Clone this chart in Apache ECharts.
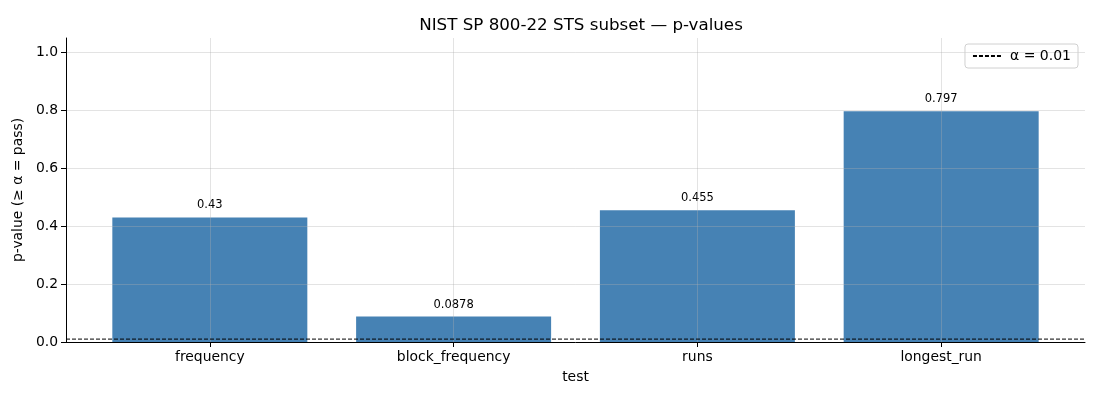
<!DOCTYPE html>
<html>
<head>
<meta charset="utf-8">
<script src="https://cdn.jsdelivr.net/npm/echarts@6/dist/echarts.min.js"></script>
<style>
  html, body { margin: 0; padding: 0; background: #fff; }
  #chart { width: 1100px; height: 400px; }
</style>
</head>
<body>
<div id="chart"></div>
<script>
  // categories and p-values
  const tests = ["frequency", "block_frequency", "runs", "longest_run"];
  const pValues = [0.43, 0.0878, 0.455, 0.797];
  const pLabels = ["0.43", "0.0878", "0.455", "0.797"];
  const alpha = 0.01;
  const yTicks = [0, 0.2, 0.4, 0.6, 0.8, 1.0];

  const FONT = "DejaVu Sans";
  const xMin = -0.59, xMax = 3.59; // matplotlib-style margins around the bars
  const positions = tests.map((_, i) => i);

  const chart = echarts.init(document.getElementById("chart"), null, { renderer: "canvas" });

  const gridLine = { show: true, lineStyle: { color: "rgba(176,176,176,0.35)", width: 1 } };

  chart.setOption({
    animation: false,
    textStyle: { fontFamily: FONT },
    title: {
      text: "NIST SP 800-22 STS subset — p-values",
      left: 576,          // centred over the plot area, not the page
      textAlign: "center",
      top: 12,
      textStyle: { fontFamily: FONT, fontSize: 16.7, fontWeight: "normal", color: "#000" }
    },
    legend: {
      right: 22,
      top: 44,
      padding: [5, 7],
      borderColor: "#d0d0d0",
      borderWidth: 1,
      borderRadius: 3,
      itemWidth: 28,
      itemHeight: 10,
      itemGap: 8,
      itemStyle: { opacity: 0 },
      textStyle: { fontFamily: FONT, fontSize: 14, color: "#000", padding: [0, 0, 0, 4] },
      data: ["α = 0.01"]
    },
    grid: { left: 66, right: 15, top: 38, bottom: 58 },
    xAxis: {
      type: "value",
      min: xMin,
      max: xMax,
      z: 3,
      name: "test",
      nameLocation: "middle",
      nameGap: 28,
      nameTextStyle: { fontFamily: FONT, fontSize: 13.9, color: "#000" },
      axisLine: { show: true, onZero: false, lineStyle: { color: "#000", width: 1 } },
      axisTick: { show: true, customValues: positions, length: 5, lineStyle: { color: "#000" } },
      axisLabel: {
        customValues: positions,
        margin: 8,
        fontFamily: FONT, fontSize: 13.9, color: "#000",
        formatter: v => tests[Math.round(v)]
      },
      splitLine: gridLine
    },
    yAxis: {
      type: "value",
      min: 0,
      max: 1.05,
      z: 3,
      name: "p-value (≥ α = pass)",
      nameLocation: "middle",
      nameGap: 38,
      nameRotate: 90,
      nameTextStyle: { fontFamily: FONT, fontSize: 13.9, color: "#000" },
      axisLine: { show: true, onZero: false, lineStyle: { color: "#000", width: 1 } },
      axisTick: { show: true, customValues: yTicks, length: 5, lineStyle: { color: "#000" } },
      axisLabel: {
        customValues: yTicks,
        margin: 8,
        fontFamily: FONT, fontSize: 13.9, color: "#000",
        formatter: v => v.toFixed(1)
      },
      splitLine: gridLine
    },
    series: [
      {
        type: "bar",
        name: "p-value",
        barWidth: 195,
        itemStyle: { color: "#4682b4" },
        label: {
          show: true,
          position: "top",
          distance: 6,
          fontFamily: FONT,
          fontSize: 11.5,
          color: "#000",
          formatter: p => pLabels[p.dataIndex]
        },
        data: pValues.map((v, i) => [i, v])
      },
      {
        type: "line",
        name: "α = 0.01",
        symbol: "none",
        z: 4,
        lineStyle: { color: "#000", width: 1, type: [4, 2] },
        itemStyle: { color: "#000" },
        data: [[xMin, alpha], [xMax, alpha]]
      }
    ]
  });
</script>
</body>
</html>
